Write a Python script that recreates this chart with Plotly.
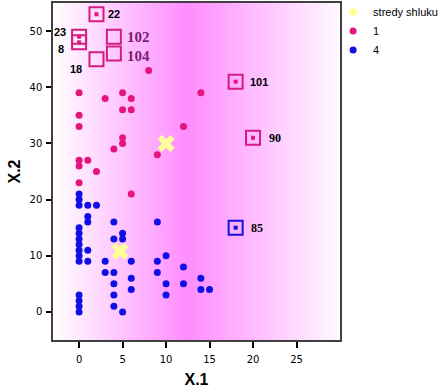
import base64
import plotly.graph_objects as go

# ---- data ----
c1_x = [8, 0, 3, 5, 6, 5, 6, 0, 0, 5, 5, 4, 14, 12, 9, 0, 0, 1, 2, 0, 6]
c1_y = [43, 39, 38, 39, 38, 36, 36, 35, 33, 31, 30, 29, 39, 33, 28, 27, 26, 27, 25, 23, 21]

c4_x = [0, 0, 0, 0, 0, 0, 0, 0, 0, 0, 0, 0, 0, 0,
        1, 2, 1, 1, 4, 9, 1, 4, 5, 5, 1, 3, 3, 4, 4, 4, 4, 5, 6, 6, 6, 9, 9, 10, 12, 10, 12, 10, 14, 14, 15]
c4_y = [21, 20, 19, 15, 14, 13, 12, 11, 10, 9, 3, 2, 1, 0,
        19, 19, 17, 16, 16, 16, 11, 13, 14, 13, 9, 9, 7, 7, 5, 3, 1, 0, 9, 6, 4, 9, 7, 10, 8, 5, 5, 3, 6, 4, 4]

centers_x = [10, 4.7]
centers_y = [30, 10.8]

# labelled cases (boxed)
out1_x = [2, 0, 0, 18, 20]
out1_y = [53, 49, 48, 41, 31]
out1_lab = ["22", "23", "8", "101", "90"]

out4_x = [18]
out4_y = [15]
out4_lab = ["85"]

empty_x = [2, 4, 4]
empty_y = [45, 49, 46]
empty_lab = ["18", "102", "104"]

xticks = [0, 5, 10, 15, 20, 25]
yticks = [0, 10, 20, 30, 40, 50]

PINK = "#E6157E"
BOXPINK = "#D41C80"
BLUE = "#1010E6"
YEL = "#FFFF99"

fig = go.Figure()

# legend-only entry for centres
fig.add_trace(go.Scatter(x=[None], y=[None], mode="markers", name="stredy shluku",
                         marker=dict(symbol="circle", size=8, color=YEL)))
fig.add_trace(go.Scatter(x=c1_x, y=c1_y, mode="markers", name="1",
                         marker=dict(symbol="circle", size=7, color=PINK)))
fig.add_trace(go.Scatter(x=c4_x, y=c4_y, mode="markers", name="4",
                         marker=dict(symbol="circle", size=7, color=BLUE)))

# boxed cases
fig.add_trace(go.Scatter(x=out1_x, y=out1_y, mode="markers", showlegend=False,
                         marker=dict(symbol="square-open", size=14, color=BOXPINK, line=dict(width=2))))
fig.add_trace(go.Scatter(x=out1_x, y=out1_y, mode="markers", showlegend=False,
                         marker=dict(symbol="square", size=4, color=PINK)))
fig.add_trace(go.Scatter(x=empty_x, y=empty_y, mode="markers", showlegend=False,
                         marker=dict(symbol="square-open", size=14, color=BOXPINK, line=dict(width=2))))
fig.add_trace(go.Scatter(x=out4_x, y=out4_y, mode="markers", showlegend=False,
                         marker=dict(symbol="square-open", size=14, color=BLUE, line=dict(width=2))))
fig.add_trace(go.Scatter(x=out4_x, y=out4_y, mode="markers", showlegend=False,
                         marker=dict(symbol="square", size=4, color=BLUE)))

# centres
fig.add_trace(go.Scatter(x=centers_x, y=centers_y, mode="markers", showlegend=False,
                         marker=dict(symbol="x", size=15, color=YEL, line=dict(width=0))))

# labels: (xanchor, xshift, yshift, font)
sans = dict(family="Liberation Sans", size=11, color="black")
serif = dict(family="Liberation Serif", size=12, color="black")
purple = dict(family="Liberation Serif", size=15, color="#7A1E72")
lab_style = {
    "22": ("left", 10, 0, sans),
    "23": ("right", -11, 5, sans),
    "8": ("right", -13, -7, sans),
    "101": ("left", 12, 0, sans),
    "90": ("left", 14, 0, serif),
    "85": ("left", 13, 0, serif),
    "18": ("center", -20, -10, sans),
    "102": ("left", 11, 0, purple),
    "104": ("left", 11, -2, purple),
}
for xs, ys, labs in [(out1_x, out1_y, out1_lab), (out4_x, out4_y, out4_lab), (empty_x, empty_y, empty_lab)]:
    for x, y, t in zip(xs, ys, labs):
        xa, dx, dy, f = lab_style[t]
        fig.add_annotation(x=x, y=y, text="<b>%s</b>" % t, showarrow=False, xanchor=xa,
                           yanchor="middle", xshift=dx, yshift=dy, font=f)

svg = ('<svg xmlns="http://www.w3.org/2000/svg" width="100" height="10" viewBox="0 0 100 10" '
       'preserveAspectRatio="none"><defs><linearGradient id="g" x1="0" x2="1" y1="0" y2="0">'
       '<stop offset="0" stop-color="#ffffff"/><stop offset="0.47" stop-color="#ff8cff"/>'
       '<stop offset="1" stop-color="#fffaff"/></linearGradient></defs>'
       '<rect width="100" height="10" fill="url(#g)"/></svg>')
src = "data:image/svg+xml;base64," + base64.b64encode(svg.encode()).decode()
fig.add_layout_image(source=src, xref="paper", yref="paper", x=0, y=1, sizex=1, sizey=1,
                     xanchor="left", yanchor="top", sizing="stretch", layer="below")

axis_common = dict(showgrid=False, zeroline=False, showline=True, linecolor="#404040", linewidth=1.5,
                   mirror=True, ticks="outside", tickwidth=2, tickcolor="black", automargin=False,
                   tickfont=dict(family="DejaVu Sans", size=10, color="black"))
fig.update_xaxes(range=[-3, 30], tickvals=xticks, ticklen=6, ticklabelstandoff=3, **axis_common,
                 title=dict(text="<b>X.1</b>", font=dict(family="Liberation Sans", size=16, color="black"),
                            standoff=10))
fig.update_yaxes(range=[-5, 55], tickvals=yticks, ticklen=5, ticklabelstandoff=2, **axis_common,
                 title=dict(text="<b>X.2</b>", font=dict(family="Liberation Sans", size=16, color="black"),
                            standoff=5))

fig.update_layout(width=439, height=391, autosize=False,
                  margin=dict(l=53, r=99, t=3, b=51, autoexpand=False),
                  paper_bgcolor="white", plot_bgcolor="rgba(0,0,0,0)",
                  legend=dict(x=0.976, y=1.016, xanchor="left", yanchor="top",
                              font=dict(family="Liberation Sans", size=11, color="black"),
                              bgcolor="rgba(0,0,0,0)", itemwidth=30),
                  showlegend=True)

fig.write_html("out.html", config={"responsive": False, "displayModeBar": False},
               default_width="439px", default_height="391px",
               post_script="document.body.style.margin='0';document.body.style.overflow='hidden';")
